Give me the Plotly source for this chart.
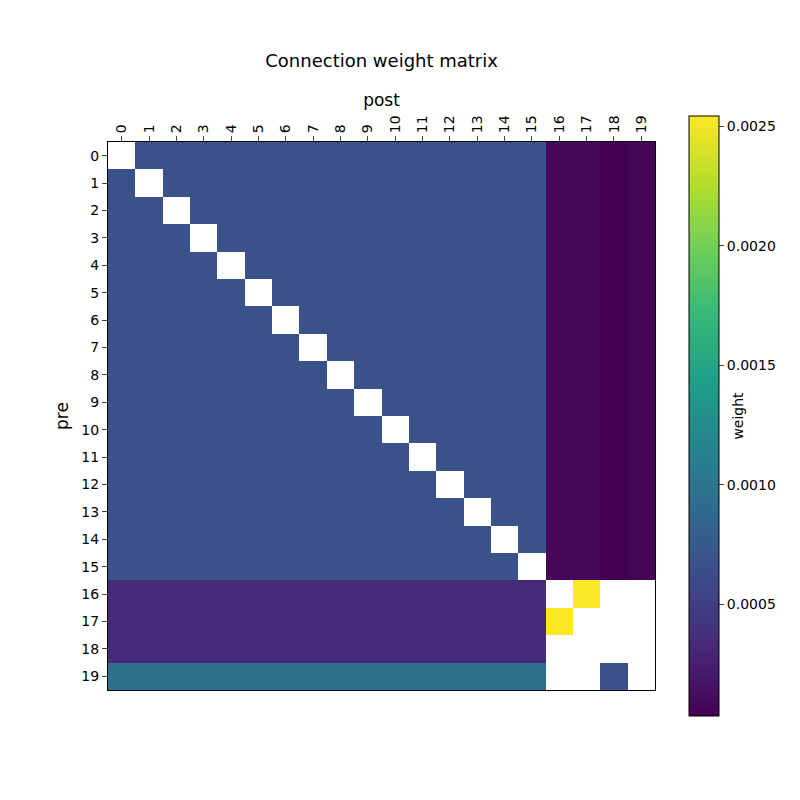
import numpy as np
import plotly.graph_objects as go

n = 20
exc_exc = 0.00066
exc_inh = [0.00008, 0.00008, 0.000033, 0.00006]
inh_exc = [0.00033, 0.00033, 0.00033, 0.00096]
inh_inh = [
    [None, 0.00254, None, None],
    [0.00254, None, None, None],
    [None, None, None, None],
    [None, None, 0.00066, None],
]

w = np.full((n, n), np.nan)
w[:16, :16] = exc_exc
for j, v in enumerate(exc_inh):
    w[:16, 16 + j] = v
for i, v in enumerate(inh_exc):
    w[16 + i, :16] = v
for i in range(4):
    for j in range(4):
        if inh_inh[i][j] is not None:
            w[16 + i, 16 + j] = inh_inh[i][j]
np.fill_diagonal(w, np.nan)

fig = go.Figure(go.Heatmap(
    z=w, x=list(range(n)), y=list(range(n)),
    colorscale="Viridis", zmin=0.000033, zmax=0.002542, hoverongaps=False,
    colorbar=dict(
        title=dict(text="weight", side="right", font=dict(size=14)),
        tickvals=[0.0005, 0.0010, 0.0015, 0.0020, 0.0025],
        ticktext=["0.0005", "0.0010", "0.0015", "0.0020", "0.0025"],
        ticks="outside", thickness=30, lenmode="pixels", len=600,
        x=(681 - 100) / 547, xanchor="left", xpad=0,
        y=0.5, yanchor="middle", ypad=0,
        outlinewidth=1, outlinecolor="black",
        tickfont=dict(size=14),
    ),
))

fig.update_layout(
    width=800, height=800, plot_bgcolor="white", paper_bgcolor="white",
    font=dict(family="DejaVu Sans", color="black", size=14),
    title=dict(text="Connection weight matrix", x=0.467, xanchor="center",
               y=1 - 53 / 800, yanchor="middle", font=dict(size=18)),
    margin=dict(l=100, r=153, t=134, b=118),
    xaxis=dict(side="top", tickmode="array", tickvals=list(range(n)),
               tickangle=-90, ticks="outside", title=dict(text="post", standoff=4),
               showline=True, linecolor="black", mirror=True, showgrid=False,
               zeroline=False, tickfont=dict(size=14)),
    yaxis=dict(autorange="reversed", tickmode="array", tickvals=list(range(n)),
               ticks="outside", title=dict(text="pre", standoff=8),
               showline=True, linecolor="black", mirror=True, showgrid=False,
               zeroline=False, tickfont=dict(size=14)),
)

fig.write_html("out.html")
